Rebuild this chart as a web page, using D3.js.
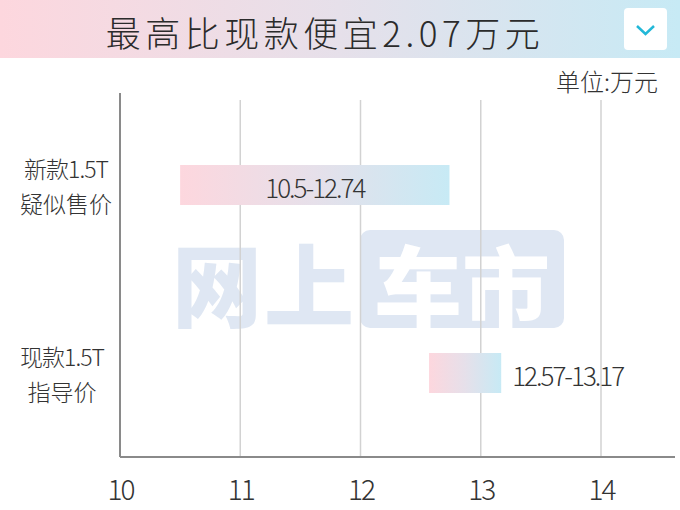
<!DOCTYPE html>
<html>
<head>
<meta charset="utf-8">
<script src="https://cdn.jsdelivr.net/npm/d3@7"></script>
<style>
  html, body { margin: 0; padding: 0; background: #fff; }
  svg { display: block; font-family: "Noto Sans CJK SC", "Noto Sans", sans-serif; }
</style>
</head>
<body>
<div class="chartDIV"></div>
<script>
// price ranges, wan yuan
var categories = [["新款1.5T", "疑似售价"], ["现款1.5T", "指导价"]],
    lowValues = [10.5, 12.57],
    highValues = [12.74, 13.17],
    rangeLabels = ["10.5-12.74", "12.57-13.17"],
    tickValues = [10, 11, 12, 13, 14],
    titleText = "最高比现款便宜2.07万元",
    unitText = "单位:万元";

var width = 680,
    height = 510,
    svg = d3.select(".chartDIV").
        append("svg").
        attr("width", width).
        attr("height", height);

var defs = svg.append("defs");
var grad = defs.append("linearGradient").attr("id", "pinkBlue").
    attr("x1", "0%").attr("x2", "100%").attr("y1", "0%").attr("y2", "0%");
grad.append("stop").attr("offset", "0%").attr("stop-color", "#fdd7de");
grad.append("stop").attr("offset", "50%").attr("stop-color", "#e6e0ea");
grad.append("stop").attr("offset", "100%").attr("stop-color", "#c7eaf5");

// title banner
svg.append("rect").attr("x", 0).attr("y", 0).attr("width", width).attr("height", 58).
    attr("fill", "url(#pinkBlue)");
svg.append("text").
    attr("x", 325).attr("y", 31).
    attr("text-anchor", "middle").attr("dominant-baseline", "central").
    style("font-size", "35px").style("font-weight", "300").style("letter-spacing", "4.5px").
    attr("fill", "#2b2b2b").
    text(titleText);
svg.append("rect").attr("x", 624).attr("y", 8).attr("width", 43).attr("height", 42).
    attr("rx", 4).attr("fill", "#fff");
svg.append("path").attr("d", "M637,26 L645.5,34 L654,26").
    attr("fill", "none").attr("stroke", "#22b8d8").attr("stroke-width", 2.5);

svg.append("text").
    attr("x", 658).attr("y", 80).
    attr("text-anchor", "end").attr("dominant-baseline", "central").
    style("font-size", "24px").style("font-weight", "300").attr("fill", "#333").
    text(unitText);

var x = d3.scaleLinear().domain([10, 14]).range([120, 601]),
    y = d3.scalePoint().domain(d3.range(categories.length)).range([185, 373]);

var plotTop = 93, plotBottom = 457;

// watermark
var wm = svg.append("g").attr("fill", "#dfe7f3");
wm.append("text").attr("x", 172).attr("y", 281).attr("dominant-baseline", "central").
    style("font-size", "90px").style("font-weight", "900").style("letter-spacing", "2px").
    text("网上");
wm.append("rect").attr("x", 360).attr("y", 230).attr("width", 204).attr("height", 98).attr("rx", 10);
wm.append("text").attr("x", 462).attr("y", 281).attr("text-anchor", "middle").
    attr("dominant-baseline", "central").attr("fill", "#fff").
    style("font-size", "88px").style("font-weight", "900").
    text("车市");

// grid
svg.append("g").selectAll("line").
    data(tickValues.slice(1)).
    enter().append("line").
    attr("x1", function(d) { return x(d); }).
    attr("x2", function(d) { return x(d); }).
    attr("y1", 100).attr("y2", plotBottom).
    attr("stroke", "#d2d2d2").attr("stroke-width", 1.5);

svg.append("line").attr("x1", x(10)).attr("x2", x(10)).attr("y1", plotTop).attr("y2", plotBottom).
    attr("stroke", "#8a8a8a").attr("stroke-width", 2);
svg.append("line").attr("x1", x(10)).attr("x2", 675).attr("y1", plotBottom).attr("y2", plotBottom).
    attr("stroke", "#8a8a8a").attr("stroke-width", 2);

var xAxis = svg.append("g").
    attr("transform", "translate(0," + plotBottom + ")").
    call(d3.axisBottom(x).tickValues(tickValues).tickSize(0).tickPadding(0).tickFormat(d3.format("d")));
xAxis.select(".domain").remove();
xAxis.selectAll("text").
    attr("y", 33).attr("dy", "0.35em").
    style("font-size", "28px").style("font-weight", "300").style("letter-spacing", "-2px").
    style("font-family", "'Noto Sans CJK SC', sans-serif").
    attr("fill", "#333");

// bars
var bars = svg.append("g").selectAll("g").
    data(categories).
    enter().append("g");

bars.append("rect").
    attr("x", function(d, i) { return x(lowValues[i]); }).
    attr("width", function(d, i) { return x(highValues[i]) - x(lowValues[i]); }).
    attr("y", function(d, i) { return y(i) - 20; }).
    attr("height", 40).
    attr("fill", "url(#pinkBlue)");

bars.append("text").
    attr("x", function(d, i) { return i === 0 ? (x(lowValues[i]) + x(highValues[i])) / 2 : x(highValues[i]) + 11; }).
    attr("y", function(d, i) { return y(i) + 1; }).
    attr("text-anchor", function(d, i) { return i === 0 ? "middle" : "start"; }).
    attr("dominant-baseline", "central").
    style("font-size", "26px").style("font-weight", "300").style("letter-spacing", "-2px").
    attr("fill", "#333").
    text(function(d, i) { return rangeLabels[i]; });

// category labels
var cat = bars.append("text").
    attr("text-anchor", "middle").
    style("font-size", "23px").style("font-weight", "300").
    attr("fill", "#333");
cat.append("tspan").
    attr("x", function(d, i) { return i === 0 ? 66 : 62; }).
    attr("y", function(d, i) { return y(i) - 17; }).
    attr("dominant-baseline", "central").
    style("letter-spacing", "-1px").
    text(function(d) { return d[0]; });
cat.append("tspan").
    attr("x", function(d, i) { return i === 0 ? 66 : 62; }).
    attr("y", function(d, i) { return y(i) + 18; }).
    attr("dominant-baseline", "central").
    text(function(d) { return d[1]; });
</script>
</body>
</html>
